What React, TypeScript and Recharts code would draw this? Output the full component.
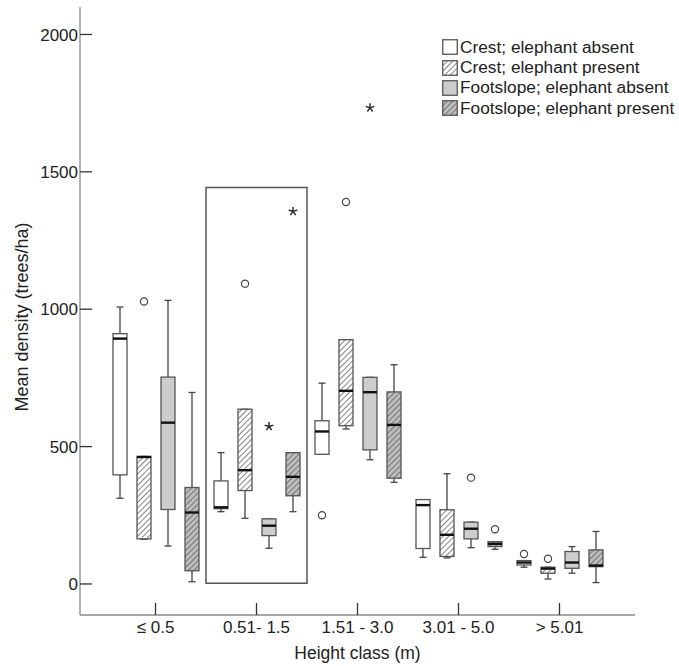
import React from 'react';
import { BarChart, Bar, XAxis, YAxis, ReferenceArea, Legend } from 'recharts';

type Stat = { min: number; q1: number; med: number; q3: number; max: number; out?: number[]; ext?: number[] };

const categories = ['≤ 0.5', '0.51- 1.5', '1.51 - 3.0', '3.01 - 5.0', '> 5.01'];
const yTicks = [0, 500, 1000, 1500, 2000];

const seriesNames = [
  'Crest; elephant absent',
  'Crest; elephant present',
  'Footslope; elephant absent',
  'Footslope; elephant present',
];

const crestAbsent: Stat[] = [
  { min: 312, q1: 397, med: 893, q3: 911, max: 1008 },
  { min: 263, q1: 274, med: 279, q3: 375, max: 478 },
  { min: 472, q1: 472, med: 555, q3: 594, max: 731, out: [250] },
  { min: 97, q1: 129, med: 287, q3: 307, max: 307 },
  { min: 61, q1: 69, med: 78, q3: 85, max: 85, out: [109] },
];

const crestPresent: Stat[] = [
  { min: 163, q1: 164, med: 462, q3: 464, max: 464, out: [1028] },
  { min: 239, q1: 340, med: 414, q3: 636, max: 636, out: [1093] },
  { min: 564, q1: 576, med: 703, q3: 889, max: 889, out: [1390] },
  { min: 95, q1: 100, med: 179, q3: 270, max: 401 },
  { min: 18, q1: 39, med: 56, q3: 61, max: 61, out: [92] },
];

const footAbsent: Stat[] = [
  { min: 138, q1: 271, med: 587, q3: 753, max: 1032 },
  { min: 130, q1: 176, med: 212, q3: 237, max: 237, ext: [573] },
  { min: 452, q1: 488, med: 698, q3: 752, max: 752, ext: [1733] },
  { min: 132, q1: 164, med: 201, q3: 225, max: 225, out: [387] },
  { min: 39, q1: 57, med: 78, q3: 118, max: 136 },
];

const footPresent: Stat[] = [
  { min: 8, q1: 48, med: 260, q3: 351, max: 697 },
  { min: 263, q1: 321, med: 390, q3: 478, max: 478, ext: [1356] },
  { min: 370, q1: 385, med: 579, q3: 699, max: 798 },
  { min: 126, q1: 136, med: 146, q3: 154, max: 154, out: [199] },
  { min: 5, q1: 63, med: 67, q3: 124, max: 191 },
];

const seriesKeys = ['crestAbsent', 'crestPresent', 'footAbsent', 'footPresent'];
const seriesFills = ['#ffffff', 'url(#hatchWhite)', '#cdcdcd', 'url(#hatchGray)'];

const data = categories.map((cat, i) => ({
  cat,
  crestAbsent: crestAbsent[i],
  crestPresent: crestPresent[i],
  footAbsent: footAbsent[i],
  footPresent: footPresent[i],
}));

const FONT = "'Liberation Sans', Arial, Helvetica, sans-serif";

function Asterisk({ cx, cy }: { cx: number; cy: number }) {
  const r = 4.5;
  const arms = [0, 1, 2, 3, 4].map((k) => {
    const a = (-90 + k * 72) * (Math.PI / 180);
    return <line key={k} x1={cx} y1={cy} x2={cx + r * Math.cos(a)} y2={cy + r * Math.sin(a)} stroke="#222" strokeWidth={1.4} />;
  });
  return <g>{arms}</g>;
}

function makeShape(key: string, fill: string) {
  return (props: any) => {
    const { x, y, width, height, payload } = props;
    const s: Stat = payload[key];
    if (!s || !height) return <g />;
    const ppu = height / (s.max - s.min);
    const py = (v: number) => y + (s.max - v) * ppu;
    const cx = x + width / 2;
    const cap = 3.5;
    return (
      <g>
        <line x1={cx} x2={cx} y1={py(s.max)} y2={py(s.q3)} stroke="#444" strokeWidth={1.3} />
        <line x1={cx} x2={cx} y1={py(s.q1)} y2={py(s.min)} stroke="#444" strokeWidth={1.3} />
        <line x1={cx - cap} x2={cx + cap} y1={py(s.max)} y2={py(s.max)} stroke="#444" strokeWidth={1.3} />
        <line x1={cx - cap} x2={cx + cap} y1={py(s.min)} y2={py(s.min)} stroke="#444" strokeWidth={1.3} />
        <rect x={x} y={py(s.q3)} width={width} height={py(s.q1) - py(s.q3)} fill={fill} stroke="#555" strokeWidth={1.3} />
        <line x1={x} x2={x + width} y1={py(s.med)} y2={py(s.med)} stroke="#111" strokeWidth={2.4} />
        {(s.out || []).map((o, i) => (
          <circle key={'o' + i} cx={cx} cy={py(o)} r={3.6} fill="#fff" stroke="#444" strokeWidth={1.2} />
        ))}
        {(s.ext || []).map((o, i) => (
          <Asterisk key={'e' + i} cx={cx} cy={py(o)} />
        ))}
      </g>
    );
  };
}

function YTick(props: any) {
  const { x, y, payload } = props;
  return (
    <g>
      <line x1={x} x2={x + 12} y1={y} y2={y} stroke="#333" strokeWidth={1.3} />
      <text x={x - 2} y={y} dy="0.36em" textAnchor="end" fontSize={17} fontFamily={FONT} fill="#222">
        {payload.value}
      </text>
    </g>
  );
}

function XTick(props: any) {
  const { x, y, payload } = props;
  return (
    <g>
      <line x1={x} x2={x} y1={y} y2={y - 12} stroke="#333" strokeWidth={1.3} />
      <text x={x} y={y + 18} textAnchor="middle" fontSize={17} fontFamily={FONT} fill="#222">
        {payload.value}
      </text>
    </g>
  );
}

function YLabel(props: any) {
  const { viewBox } = props;
  const cx = viewBox.x + 22;
  const cy = viewBox.y + viewBox.height / 2 + 6;
  return (
    <text x={cx} y={cy} transform={`rotate(-90, ${cx}, ${cy})`} textAnchor="middle" dominantBaseline="central" fontSize={18} fontFamily={FONT} fill="#222">
      Mean density (trees/ha)
    </text>
  );
}

function XLabel(props: any) {
  const { viewBox } = props;
  const cx = viewBox.x + viewBox.width / 2;
  return (
    <text x={cx} y={659} textAnchor="middle" fontSize={17.5} fontFamily={FONT} fill="#222">
      Height class (m)
    </text>
  );
}

function PatternDefs() {
  return (
    <svg width={0} height={0} style={{ position: 'absolute', left: 0, top: 0 }}>
      <defs>
        <pattern id="hatchWhite" width={4} height={4} patternUnits="userSpaceOnUse" patternTransform="rotate(45)">
          <rect width={4} height={4} fill="#ffffff" />
          <line x1={0} y1={0} x2={0} y2={4} stroke="#333" strokeWidth={1.2} />
        </pattern>
        <pattern id="hatchGray" width={4} height={4} patternUnits="userSpaceOnUse" patternTransform="rotate(45)">
          <rect width={4} height={4} fill="#bdbdbd" />
          <line x1={0} y1={0} x2={0} y2={4} stroke="#444" strokeWidth={1.2} />
        </pattern>
      </defs>
    </svg>
  );
}

function LegendContent() {
  return (
    <div style={{ fontFamily: FONT, fontSize: 17.3, color: '#222' }}>
      {seriesNames.map((n, i) => (
        <div key={n} style={{ display: 'flex', alignItems: 'center', height: 20.4, whiteSpace: 'nowrap' }}>
          <svg width={16} height={16} style={{ display: 'block', marginRight: 2 }}>
            <rect x={0.75} y={0.75} width={14.5} height={14.5} fill={seriesFills[i]} stroke="#555" strokeWidth={1.3} />
          </svg>
          <span>{n}</span>
        </div>
      ))}
    </div>
  );
}

export default function App() {
  return (
    <div style={{ position: 'absolute', left: 0, top: 0, width: 679, height: 666, background: '#fff' }}>
      <PatternDefs />
      <BarChart
        width={679}
        height={666}
        data={data}
        margin={{ top: 7, right: 44, left: 0, bottom: 0 }}
        barSize={14}
        barGap={10}
      >
        <XAxis
          dataKey="cat"
          type="category"
          height={51}
          padding={{ left: 25, right: 25 }}
          axisLine={{ stroke: '#8a8a8a', strokeWidth: 1.3 }}
          tickLine={false}
          tickSize={0}
          tickMargin={0}
          tick={<XTick />}
          interval={0}
          label={<XLabel />}
        />
        <YAxis
          type="number"
          domain={[-113, 2100]}
          ticks={yTicks}
          width={80}
          axisLine={{ stroke: '#8a8a8a', strokeWidth: 1.3 }}
          tickLine={false}
          tickSize={0}
          tickMargin={0}
          tick={<YTick />}
          label={<YLabel />}
        />
        <ReferenceArea x1={categories[1]} x2={categories[1]} y1={3} y2={1443} fill="none" stroke="#555" strokeWidth={1.5} fillOpacity={0} />
        {seriesKeys.map((k, i) => (
          <Bar
            key={k}
            dataKey={(row: any) => [row[k].min, row[k].max]}
            name={seriesNames[i]}
            fill={seriesFills[i]}
            isAnimationActive={false}
            shape={makeShape(k, seriesFills[i])}
          />
        ))}
        <Legend
          layout="vertical"
          align="center"
          verticalAlign="middle"
          wrapperStyle={{ left: 442, top: 37, width: 'auto' }}
          content={<LegendContent />}
        />
      </BarChart>
    </div>
  );
}
